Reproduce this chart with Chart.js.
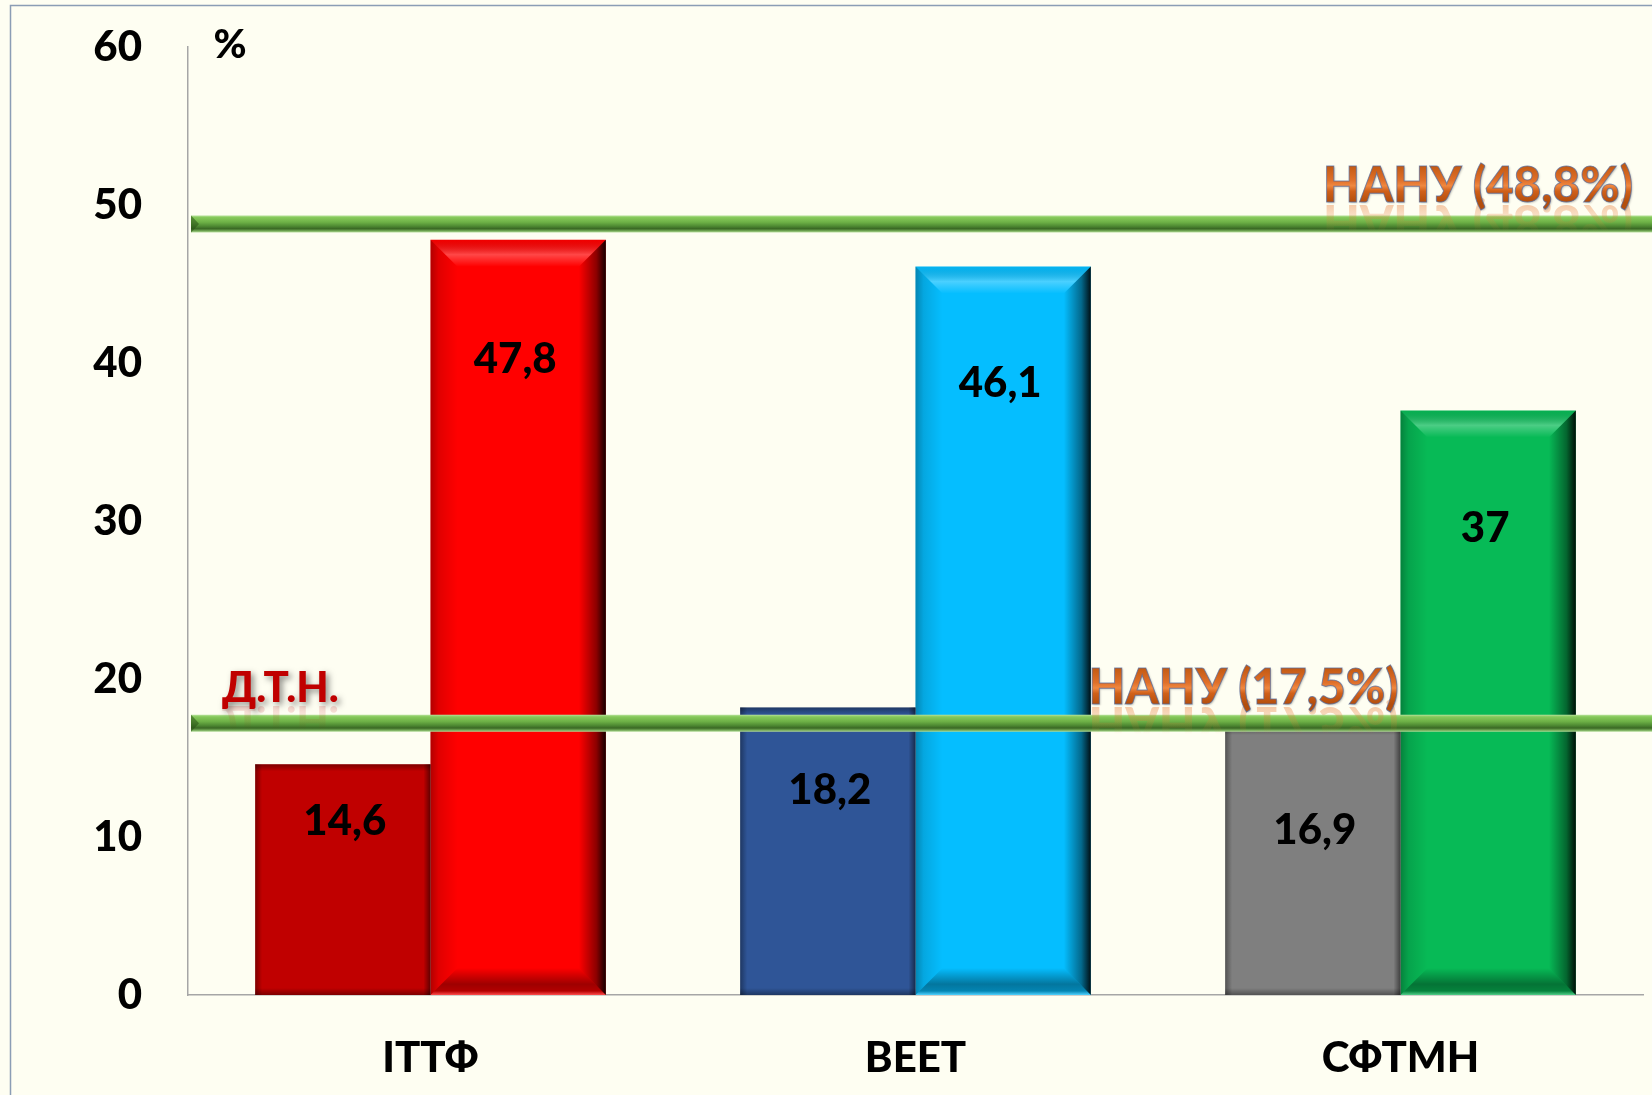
<!DOCTYPE html>
<html><head><meta charset="utf-8">
<script src="https://cdn.jsdelivr.net/npm/chart.js@4.4.1/dist/chart.umd.min.js"></script>
<style>html,body{margin:0;padding:0;background:#FEFEF2;overflow:hidden}canvas{display:block}</style>
</head><body>
<canvas id="c" width="1652" height="1095" style="width:1652px;height:1095px"></canvas>
<script>
// ---- data ----
const categories = ['ІТТФ', 'ВЕЕТ', 'СФТМН'];
const seriesA = [14.6, 18.2, 16.9];          // first bar of each group
const seriesB = [47.8, 46.1, 37];            // second bar of each group
const refValues = [48.8, 17.2];              // horizontal reference lines (as drawn)
const refLabels = ['НАНУ (48,8%)', 'НАНУ (17,5%)'];
const yTickValues = [0, 10, 20, 30, 40, 50, 60];
const unitLabel = '%';
const sideLabel = 'Д.Т.Н.';

// ---- styles ----
const colorsA = ['#C00000', '#2F5597', '#7F7F7F'];
const colorsB = ['#FF0000', '#05BEFF', '#07BA56'];
const labelOffsetA = [57, 83, 102];   // px below bar top for value labels
const labelOffsetB = [120, 117, 118];
const FONT = 'Lato, "Open Sans", sans-serif';
const W = '900';
const BG = '#FEFEF2';

function fmt(v){ return String(v).replace('.', ','); }

function poly(ctx, pts, fill){
  ctx.beginPath(); ctx.moveTo(pts[0][0], pts[0][1]);
  for (let i=1;i<pts.length;i++) ctx.lineTo(pts[i][0], pts[i][1]);
  ctx.closePath(); ctx.fillStyle = fill; ctx.fill();
}
function bevel(ctx, x0, y0, x1, y1, b){
  let g = ctx.createLinearGradient(x0,0,x0+b,0);
  g.addColorStop(0,'rgba(0,0,0,0.30)'); g.addColorStop(0.3,'rgba(0,0,0,0.12)'); g.addColorStop(1,'rgba(0,0,0,0)');
  poly(ctx, [[x0,y0],[x0+b,y0+b],[x0+b,y1-b],[x0,y1]], g);
  g = ctx.createLinearGradient(x1,0,x1-b,0);
  g.addColorStop(0,'rgba(0,0,0,0.92)'); g.addColorStop(0.35,'rgba(0,0,0,0.45)'); g.addColorStop(1,'rgba(0,0,0,0)');
  poly(ctx, [[x1,y0],[x1-b,y0+b],[x1-b,y1-b],[x1,y1]], g);
  g = ctx.createLinearGradient(0,y0,0,y0+b);
  g.addColorStop(0,'rgba(0,0,0,0.05)'); g.addColorStop(0.55,'rgba(255,255,255,0.28)'); g.addColorStop(1,'rgba(255,255,255,0)');
  poly(ctx, [[x0,y0],[x1,y0],[x1-b,y0+b],[x0+b,y0+b]], g);
  g = ctx.createLinearGradient(0,y1-b,0,y1);
  g.addColorStop(0,'rgba(0,0,0,0)'); g.addColorStop(0.6,'rgba(0,0,0,0.38)'); g.addColorStop(0.85,'rgba(0,0,0,0.3)'); g.addColorStop(1,'rgba(255,255,255,0.3)');
  poly(ctx, [[x0,y1],[x1,y1],[x1-b,y1-b],[x0+b,y1-b]], g);
}
function inset(ctx, x0, y0, x1, y1, s){
  let g = ctx.createLinearGradient(x0,0,x0+s,0);
  g.addColorStop(0,'rgba(0,0,0,0.35)'); g.addColorStop(1,'rgba(0,0,0,0)');
  ctx.fillStyle = g; ctx.fillRect(x0,y0,s,y1-y0);
  g = ctx.createLinearGradient(x1,0,x1-s,0);
  g.addColorStop(0,'rgba(0,0,0,0.5)'); g.addColorStop(1,'rgba(0,0,0,0)');
  ctx.fillStyle = g; ctx.fillRect(x1-s,y0,s,y1-y0);
  g = ctx.createLinearGradient(0,y0,0,y0+s);
  g.addColorStop(0,'rgba(0,0,0,0.35)'); g.addColorStop(1,'rgba(0,0,0,0)');
  ctx.fillStyle = g; ctx.fillRect(x0,y0,x1-x0,s);
  g = ctx.createLinearGradient(0,y1,0,y1-s);
  g.addColorStop(0,'rgba(0,0,0,0.35)'); g.addColorStop(1,'rgba(0,0,0,0)');
  ctx.fillStyle = g; ctx.fillRect(x0,y1-s,x1-x0,s);
}
function greenLine(ctx, x0, x1, y, t){
  const h = t/2;
  const g = ctx.createLinearGradient(0,y-h,0,y+h);
  g.addColorStop(0,'#B8E29C'); g.addColorStop(0.12,'#86C95B'); g.addColorStop(0.4,'#6DB046');
  g.addColorStop(0.62,'#4F8B33'); g.addColorStop(0.78,'#3A6824'); g.addColorStop(0.9,'#6FA552'); g.addColorStop(1,'#B3DC99');
  ctx.fillStyle = g; ctx.fillRect(x0, y-h, x1-x0, t);
  poly(ctx, [[x0,y-h],[x0+8,y],[x0,y+h]], 'rgba(40,80,20,0.55)');
}
function fancyText(ctx, text, xRight, baseline, size){
  ctx.save();
  ctx.font = W + ' ' + size + 'px ' + FONT;
  ctx.textAlign = 'right'; ctx.textBaseline = 'alphabetic';
  const cap = size*0.72;
  ctx.save();
  ctx.translate(0, 2*baseline + 3); ctx.scale(1,-1);
  let rg = ctx.createLinearGradient(0, baseline, 0, baseline - cap*0.75);
  rg.addColorStop(0,'rgba(230,120,50,0.38)'); rg.addColorStop(1,'rgba(230,120,50,0)');
  ctx.fillStyle = rg; ctx.fillText(text, xRight, baseline, 310);
  ctx.restore();
  const g = ctx.createLinearGradient(0, baseline - cap, 0, baseline);
  g.addColorStop(0,'#C35A13'); g.addColorStop(0.4,'#E0702A'); g.addColorStop(0.55,'#F08840');
  g.addColorStop(0.7,'#D06019'); g.addColorStop(1,'#B34E0C');
  ctx.shadowColor = 'rgba(0,0,0,0.25)'; ctx.shadowBlur = 2; ctx.shadowOffsetX = 1; ctx.shadowOffsetY = 1;
  ctx.fillStyle = g; ctx.fillText(text, xRight, baseline, 310);
  ctx.shadowColor = 'transparent';
  ctx.lineWidth = 1; ctx.strokeStyle = 'rgba(80,105,160,0.7)';
  ctx.strokeText(text, xRight, baseline, 310);
  ctx.restore();
}

const bgPlugin = {
  id: 'bg',
  beforeDraw(chart){
    const c = chart.ctx;
    c.save();
    c.fillStyle = BG; c.fillRect(0,0,chart.width,chart.height);
    c.strokeStyle = '#8B9DB5'; c.lineWidth = 1.5;
    c.beginPath(); c.moveTo(10.5, chart.height+2); c.lineTo(10.5, 5.5); c.lineTo(chart.width+2, 5.5); c.stroke();
    c.restore();
  }
};

const decorPlugin = {
  id: 'decor',
  afterDatasetsDraw(chart){
    const c = chart.ctx;
    const y = chart.scales.y;
    c.save();
    chart.getDatasetMeta(0).data.forEach(el => {
      const x0 = el.x - el.width/2, x1 = el.x + el.width/2;
      inset(c, x0, el.y, x1, el.base, 7);
    });
    chart.getDatasetMeta(1).data.forEach(el => {
      const x0 = el.x - el.width/2, x1 = el.x + el.width/2;
      bevel(c, x0, el.y, x1, el.base, 27);
    });
    const y48 = y.getPixelForValue(refValues[0]);
    const y17 = y.getPixelForValue(refValues[1]);
    greenLine(c, 191, chart.width, y48, 17);
    greenLine(c, 191, chart.width, y17, 17);
    const mB2 = chart.getDatasetMeta(1).data[2];
    fancyText(c, refLabels[0], 1633, y48 - 22, 50);
    fancyText(c, refLabels[1], mB2.x - mB2.width/2 - 2, y17 - 19, 50);
    c.font = W + ' 42px ' + FONT; c.textAlign = 'left'; c.textBaseline = 'alphabetic';
    c.save();
    c.translate(0, 2*(y17-21) + 4); c.scale(1,-1);
    const rg = c.createLinearGradient(0, y17-21, 0, y17-21-24);
    rg.addColorStop(0,'rgba(192,0,0,0.16)'); rg.addColorStop(1,'rgba(192,0,0,0)');
    c.fillStyle = rg; c.fillText(sideLabel, 222, y17-21);
    c.restore();
    c.shadowColor = 'rgba(0,0,0,0.45)'; c.shadowBlur = 6; c.shadowOffsetX = 3; c.shadowOffsetY = 3;
    c.fillStyle = '#C00000'; c.fillText(sideLabel, 222, y17-21);
    c.shadowColor = 'transparent';
    c.font = W + ' 40px ' + FONT; c.textAlign = 'center'; c.textBaseline = 'middle';
    c.fillStyle = '#000'; c.fillText(unitLabel, 230, 45);
    c.font = W + ' 42px ' + FONT;
    chart.getDatasetMeta(0).data.forEach((el, i) => {
      c.fillText(fmt(seriesA[i]), el.x + 2, el.y + labelOffsetA[i]);
    });
    chart.getDatasetMeta(1).data.forEach((el, i) => {
      c.fillText(fmt(seriesB[i]), el.x - 3, el.y + labelOffsetB[i]);
    });
    c.restore();
  }
};

const tickFont = {family: FONT, size: 42, weight: W};
new Chart(document.getElementById('c'), {
  type: 'bar',
  data: {
    labels: categories,
    datasets: [
      {data: seriesA, backgroundColor: colorsA, borderWidth: 0, categoryPercentage: 0.723, barPercentage: 1},
      {data: seriesB, backgroundColor: colorsB, borderWidth: 0, categoryPercentage: 0.723, barPercentage: 1}
    ]
  },
  options: {
    responsive: false, animation: false, devicePixelRatio: 1,
    layout: {padding: {left: 0, top: 47, right: 9, bottom: 0}},
    plugins: {legend: {display: false}, tooltip: {enabled: false}},
    scales: {
      x: {
        grid: {display: false, drawTicks: false},
        border: {display: true, color: '#A6A6A6', width: 1.5},
        ticks: {font: tickFont, color: '#000', padding: 38},
        afterFit(s){ s.height = 100; s.paddingLeft = 0; s.paddingRight = 0; }
      },
      y: {
        min: 0, max: 60,
        grid: {display: false, drawTicks: false},
        border: {display: true, color: '#A6A6A6', width: 1.5},
        ticks: {font: tickFont, color: '#000', padding: 46, stepSize: 10},
        afterBuildTicks(s){ s.ticks = yTickValues.map(v => ({value: v})); },
        afterFit(s){ s.width = 188; s.paddingTop = 0; s.paddingBottom = 0; }
      }
    }
  },
  plugins: [bgPlugin, decorPlugin]
});
</script>
</body></html>
